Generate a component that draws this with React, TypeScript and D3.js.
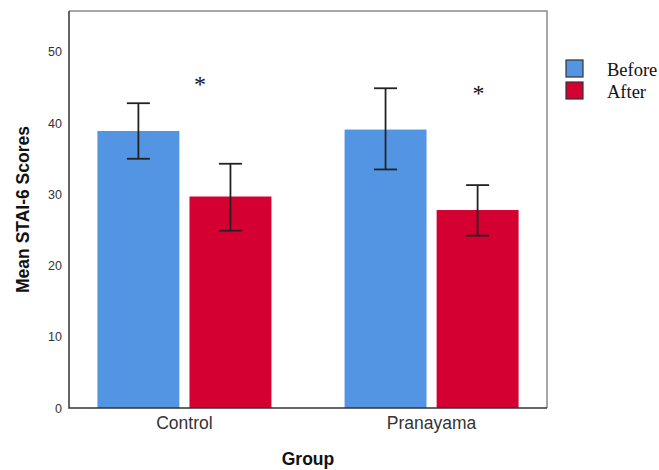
import React, { useEffect, useRef } from "react";
import * as d3 from "d3";

const groups = ["Control", "Pranayama"];
const keys = ["Before", "After"];
const means = [
  [38.9, 39.1],
  [29.7, 27.8],
];
const upper = [
  [42.8, 44.9],
  [34.3, 31.3],
];
const lower = [
  [35.0, 33.5],
  [24.9, 24.2],
];
const yTicks = [0, 10, 20, 30, 40, 50];
const starLevel = [46.2, 45.0];
const colors = ["#5495E3", "#D50032"];

const App = () => {
  const ref = useRef<SVGSVGElement>(null);

  useEffect(() => {
    drawChart();
  }, []);

  const drawChart = () => {
    const width = 659,
      height = 470;
    const margin = { top: 11, right: 112, bottom: 62, left: 69 };

    const svg = d3.select(ref.current);
    svg.selectAll("*").remove();

    const x0 = d3
      .scaleBand()
      .domain(groups)
      .range([margin.left, width - margin.right])
      .paddingInner(0.296)
      .paddingOuter(0.115);

    const x1 = d3
      .scaleBand()
      .domain(keys)
      .range([0, x0.bandwidth()])
      .paddingInner(0.11);

    const y = d3
      .scaleLinear()
      .domain([0, 55.75])
      .range([height - margin.bottom, margin.top]);

    const data = groups.flatMap((g, gi) =>
      keys.map((k, ki) => ({
        group: g,
        key: k,
        ki,
        value: means[ki][gi],
        hi: upper[ki][gi],
        lo: lower[ki][gi],
      }))
    );

    // bars
    svg
      .append("g")
      .selectAll("rect")
      .data(data)
      .join("rect")
      .attr("x", (d) => x0(d.group)! + x1(d.key)!)
      .attr("y", (d) => y(d.value))
      .attr("width", x1.bandwidth())
      .attr("height", (d) => y(0) - y(d.value))
      .attr("fill", (d) => colors[d.ki]);

    // error bars
    const capW = 11.5;
    const eb = svg
      .append("g")
      .attr("stroke", "#222")
      .attr("stroke-width", 1.8)
      .selectAll("g")
      .data(data)
      .join("g")
      .attr(
        "transform",
        (d) => `translate(${x0(d.group)! + x1(d.key)! + x1.bandwidth() / 2},0)`
      );
    eb.append("line")
      .attr("y1", (d) => y(d.hi))
      .attr("y2", (d) => y(d.lo));
    eb.append("line")
      .attr("x1", -capW)
      .attr("x2", capW)
      .attr("y1", (d) => y(d.hi))
      .attr("y2", (d) => y(d.hi));
    eb.append("line")
      .attr("x1", -capW)
      .attr("x2", capW)
      .attr("y1", (d) => y(d.lo))
      .attr("y2", (d) => y(d.lo));

    // asterisks
    svg
      .append("g")
      .selectAll("text")
      .data(groups)
      .join("text")
      .attr("x", (d, i) => x0(d)! + x0.bandwidth() * (i === 0 ? 0.59 : 0.77))
      .attr("y", (d, i) => y(starLevel[i]) + 13)
      .attr("text-anchor", "middle")
      .attr("font-family", "Liberation Serif, Times New Roman, serif")
      .attr("font-size", 24)
      .attr("fill", "#111")
      .text("*");

    // frame
    const [l, r] = x0.range();
    const [b, t] = y.range();
    svg
      .append("path")
      .attr("d", `M${l},${t}H${r}V${b}`)
      .attr("fill", "none")
      .attr("stroke", "#8a8a8a")
      .attr("stroke-width", 1.5);
    svg
      .append("path")
      .attr("d", `M${l},${t}V${b}H${r}`)
      .attr("fill", "none")
      .attr("stroke", "#333")
      .attr("stroke-width", 1.5);

    // y axis
    svg
      .append("g")
      .attr("transform", `translate(${margin.left},0)`)
      .call(d3.axisLeft(y).tickValues(yTicks).tickSize(0).tickPadding(7))
      .call((g) => g.select(".domain").remove())
      .call((g) =>
        g
          .selectAll("text")
          .attr("font-family", "Liberation Sans, Arial, sans-serif")
          .attr("font-size", 12.5)
          .attr("fill", "#333")
      );

    // x axis
    svg
      .append("g")
      .attr("transform", `translate(0,${height - margin.bottom})`)
      .call(d3.axisBottom(x0).tickSize(0).tickPadding(9))
      .call((g) => g.select(".domain").remove())
      .call((g) =>
        g
          .selectAll("text")
          .attr("font-family", "Liberation Sans, Arial, sans-serif")
          .attr("font-size", 17.5)
          .attr("fill", "#333")
      );

    // axis titles
    svg
      .append("text")
      .attr("x", (l + r) / 2)
      .attr("y", 465)
      .attr("text-anchor", "middle")
      .attr("font-family", "Liberation Sans, Arial, sans-serif")
      .attr("font-weight", "bold")
      .attr("font-size", 17.5)
      .attr("fill", "#111")
      .text("Group");

    svg
      .append("text")
      .attr("transform", `translate(29,${(t + b) / 2}) rotate(-90)`)
      .attr("text-anchor", "middle")
      .attr("font-family", "Liberation Sans, Arial, sans-serif")
      .attr("font-weight", "bold")
      .attr("font-size", 17.5)
      .attr("fill", "#111")
      .text("Mean STAI-6 Scores");

    // legend
    const legend = svg
      .append("g")
      .attr("transform", `translate(566,60)`)
      .selectAll("g")
      .data(keys)
      .join("g")
      .attr("transform", (d, i) => `translate(0,${i * 22})`);
    legend
      .append("rect")
      .attr("width", 17)
      .attr("height", 17)
      .attr("fill", (d, i) => colors[i])
      .attr("stroke", "#333")
      .attr("stroke-width", 1.2);
    legend
      .append("text")
      .attr("x", 41)
      .attr("y", 16)
      .attr("font-family", "Liberation Serif, Times New Roman, serif")
      .attr("font-size", 18.5)
      .attr("fill", "#111")
      .text((d) => d);
  };

  return (
    <svg
      ref={ref}
      width={659}
      height={470}
      style={{ position: "absolute", left: 0, top: 0, background: "#fff" }}
    ></svg>
  );
};

export default App;
